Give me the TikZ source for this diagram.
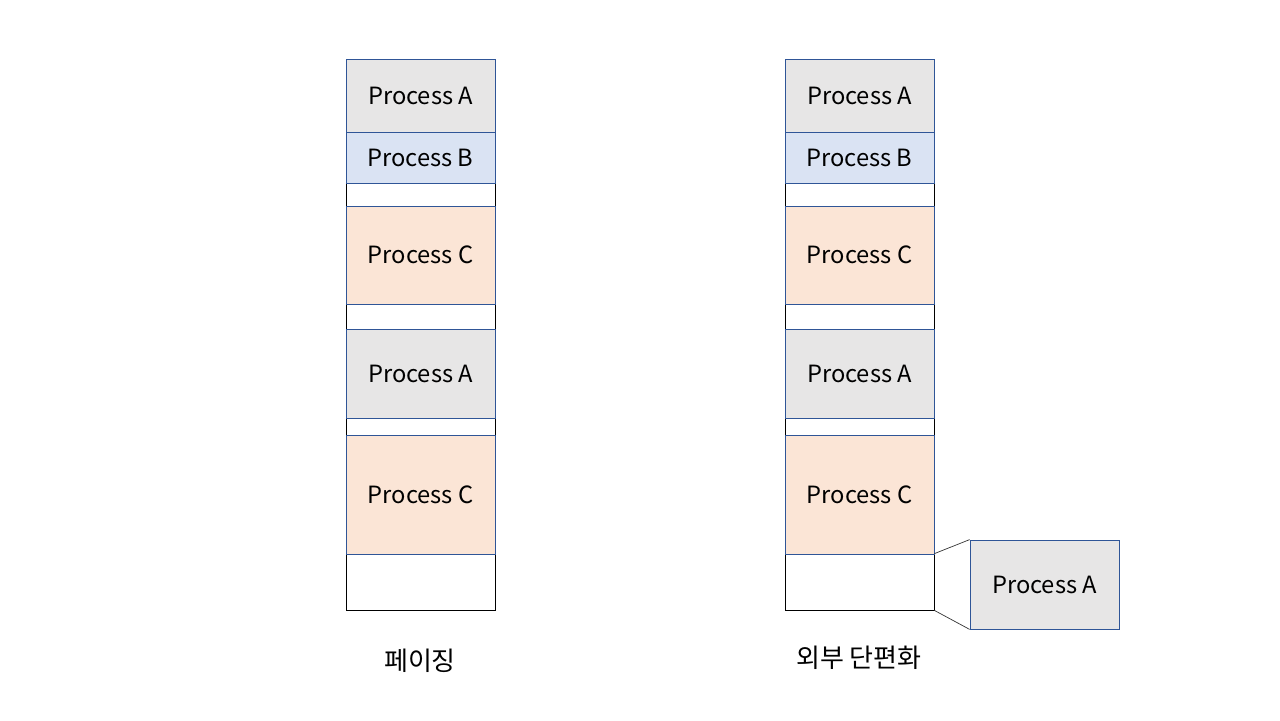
\documentclass[tikz,border=0pt]{standalone}
\usepackage{fontspec}
\setmainfont{Noto Sans CJK KR}
\definecolor{procgray}{HTML}{E7E6E6}
\definecolor{procblue}{HTML}{DAE3F3}
\definecolor{procorange}{HTML}{FBE5D6}
\definecolor{edgeblue}{HTML}{2F5597}
\tikzset{
    memcell/.style={draw=black, fill=white, line width=0.45pt, minimum width=2.98cm, inner sep=0pt},
    procbox/.style={memcell, draw=edgeblue, font=\fontsize{13.5}{16}\selectfont},
    procA/.style={procbox, fill=procgray},
    procB/.style={procbox, fill=procblue},
    procC/.style={procbox, fill=procorange},
    caption/.style={font=\fontsize{14.8}{18}\selectfont},
}
\begin{document}
\begin{tikzpicture}[x=0.02cm, y=-0.02cm]

\useasboundingbox (0,0) rectangle (1280,720);

% Memory columns: free holes first, then the processes on top
\foreach \cx/\col in {420.5/l, 859.5/r} {
    \node[memcell, minimum height=0.46cm] (\col gap1) at (\cx,194.5) {};
    \node[memcell, minimum height=0.50cm] (\col gap2) at (\cx,316.5) {};
    \node[memcell, minimum height=0.34cm] (\col gap3) at (\cx,426.5) {};
    \node[memcell, minimum height=1.12cm] (\col free) at (\cx,582) {};

    \node[procA, minimum height=1.46cm] (\col A1) at (\cx,95.5) {Process A};
    \node[procB, minimum height=1.02cm] (\col B1) at (\cx,157.5) {Process B};
    \node[procC, minimum height=1.96cm] (\col C1) at (\cx,255) {Process C};
    \node[procA, minimum height=1.78cm] (\col A2) at (\cx,373.5) {Process A};
    \node[procC, minimum height=2.38cm] (\col C2) at (\cx,494.5) {Process C};
}

% Process that does not fit into the free hole
\node[procA, minimum height=1.78cm] (extraA) at (1044.5,584.5) {Process A};
\draw[line width=0.4pt, black!80] (rfree.north east) -- (extraA.north west);
\draw[line width=0.4pt, black!80] (rfree.south east) -- (extraA.south west);

% Captions
\node[caption] (lblPaging) at (420,661) {페이징};
\node[caption] (lblFrag) at (859,658) {외부 단편화};

\end{tikzpicture}
\end{document}
